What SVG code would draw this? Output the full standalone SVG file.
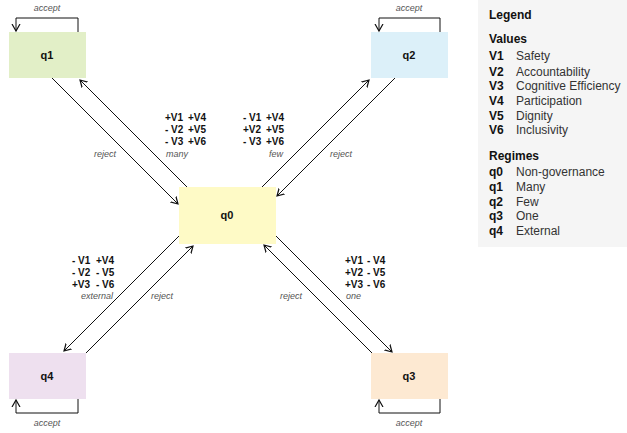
<svg xmlns="http://www.w3.org/2000/svg" width="627" height="433" viewBox="0 0 627 433">
<style>
.node{stroke:none}
.nl{font-family:"Liberation Sans",Arial,sans-serif;font-size:11px;font-weight:bold;fill:#111;text-anchor:middle}
.it{font-family:"Liberation Sans",Arial,sans-serif;font-size:9px;font-style:italic;fill:#555}
.v{font-family:"Liberation Sans",Arial,sans-serif;font-size:10px;font-weight:bold;fill:#111}
.c{fill:none;stroke:#111;stroke-width:1}
.lt{font-family:"Liberation Sans",Arial,sans-serif;font-size:12px;font-weight:bold;fill:#111}
.lv{font-family:"Liberation Sans",Arial,sans-serif;font-size:12px;fill:#333}
</style>
<defs>
<marker id="ah" markerUnits="userSpaceOnUse" markerWidth="10" markerHeight="10" refX="7" refY="4" orient="auto" viewBox="0 0 10 8">
<path d="M0,0 L7,4 L0,8" fill="none" stroke="#111" stroke-width="1.2"/>
</marker>
</defs>
<rect width="627" height="433" fill="#ffffff"/>
<g id="q1"><rect class="node" x="9" y="32" width="77" height="46" fill="#e2efc7"/><text class="nl" x="47" y="59">q1</text></g>
<g id="q2"><rect class="node" x="371" y="32" width="77" height="46" fill="#dcf0f9"/><text class="nl" x="409" y="59">q2</text></g>
<g id="q0"><rect class="node" x="179" y="187" width="97" height="57" fill="#fefac6"/><text class="nl" x="227" y="219">q0</text></g>
<g id="q4"><rect class="node" x="9" y="353" width="77" height="46" fill="#eee0ef"/><text class="nl" x="47" y="380">q4</text></g>
<g id="q3"><rect class="node" x="371" y="353" width="77" height="46" fill="#fde9d2"/><text class="nl" x="409" y="380">q3</text></g>
<g id="connectors">
<path class="c" d="M78,32 V18 H16 V31" marker-end="url(#ah)"/>
<path class="c" d="M440,32 V18 H379 V31" marker-end="url(#ah)"/>
<path class="c" d="M78,399 V413 H16 V400" marker-end="url(#ah)"/>
<path class="c" d="M440,399 V413 H379 V400" marker-end="url(#ah)"/>
<path class="c" d="M52,78 L178,204" marker-end="url(#ah)"/>
<path class="c" d="M187,187 L80,80" marker-end="url(#ah)"/>
<path class="c" d="M262,187 L369,80" marker-end="url(#ah)"/>
<path class="c" d="M395,78 L277,196" marker-end="url(#ah)"/>
<path class="c" d="M179,236 L64,351" marker-end="url(#ah)"/>
<path class="c" d="M86,353 L193,246" marker-end="url(#ah)"/>
<path class="c" d="M276,236 L392,352" marker-end="url(#ah)"/>
<path class="c" d="M372,353 L264,245" marker-end="url(#ah)"/>
<text class="it" x="47" y="11" text-anchor="middle">accept</text>
<text class="it" x="409" y="11" text-anchor="middle">accept</text>
<text class="it" x="47" y="426" text-anchor="middle">accept</text>
<text class="it" x="409" y="426" text-anchor="middle">accept</text>
<text class="it" x="105" y="157" text-anchor="middle">reject</text>
<text class="it" x="341" y="157" text-anchor="middle">reject</text>
<text class="it" x="162" y="299" text-anchor="middle">reject</text>
<text class="it" x="291" y="299" text-anchor="middle">reject</text>
<text class="it" x="166" y="157">many</text>
<text class="it" x="283" y="157" text-anchor="end">few</text>
<text class="it" x="113" y="299" text-anchor="end">external</text>
<text class="it" x="346" y="299">one</text>
<text class="v" y="121"><tspan x="165">+V1</tspan><tspan x="188">+V4</tspan></text>
<text class="v" y="133"><tspan x="165">- V2</tspan><tspan x="188">+V5</tspan></text>
<text class="v" y="145"><tspan x="165">- V3</tspan><tspan x="188">+V6</tspan></text>
<text class="v" y="121"><tspan x="243">- V1</tspan><tspan x="266">+V4</tspan></text>
<text class="v" y="133"><tspan x="243">+V2</tspan><tspan x="266">+V5</tspan></text>
<text class="v" y="145"><tspan x="243">- V3</tspan><tspan x="266">+V6</tspan></text>
<text class="v" y="264"><tspan x="72">- V1</tspan><tspan x="96">+V4</tspan></text>
<text class="v" y="276"><tspan x="72">- V2</tspan><tspan x="96">- V5</tspan></text>
<text class="v" y="288"><tspan x="72">+V3</tspan><tspan x="96">- V6</tspan></text>
<text class="v" y="264"><tspan x="345">+V1</tspan><tspan x="367">- V4</tspan></text>
<text class="v" y="276"><tspan x="345">+V2</tspan><tspan x="367">- V5</tspan></text>
<text class="v" y="288"><tspan x="345">+V3</tspan><tspan x="367">- V6</tspan></text>
</g>
<g id="legend">
<rect x="478" y="0" width="149" height="247" fill="#f5f5f5"/>
<text class="lt" x="489" y="19">Legend</text>
<text class="lt" x="489" y="43">Values</text>
<text class="lt" x="489" y="60">V1</text><text class="lv" x="516" y="60">Safety</text>
<text class="lt" x="489" y="76">V2</text><text class="lv" x="516" y="76">Accountability</text>
<text class="lt" x="489" y="90">V3</text><text class="lv" x="516" y="90">Cognitive Efficiency</text>
<text class="lt" x="489" y="105">V4</text><text class="lv" x="516" y="105">Participation</text>
<text class="lt" x="489" y="120">V5</text><text class="lv" x="516" y="120">Dignity</text>
<text class="lt" x="489" y="134">V6</text><text class="lv" x="516" y="134">Inclusivity</text>
<text class="lt" x="489" y="160">Regimes</text>
<text class="lt" x="489" y="176">q0</text><text class="lv" x="516" y="176">Non-governance</text>
<text class="lt" x="489" y="191">q1</text><text class="lv" x="516" y="191">Many</text>
<text class="lt" x="489" y="206">q2</text><text class="lv" x="516" y="206">Few</text>
<text class="lt" x="489" y="220">q3</text><text class="lv" x="516" y="220">One</text>
<text class="lt" x="489" y="235">q4</text><text class="lv" x="516" y="235">External</text>
</g>
</svg>
